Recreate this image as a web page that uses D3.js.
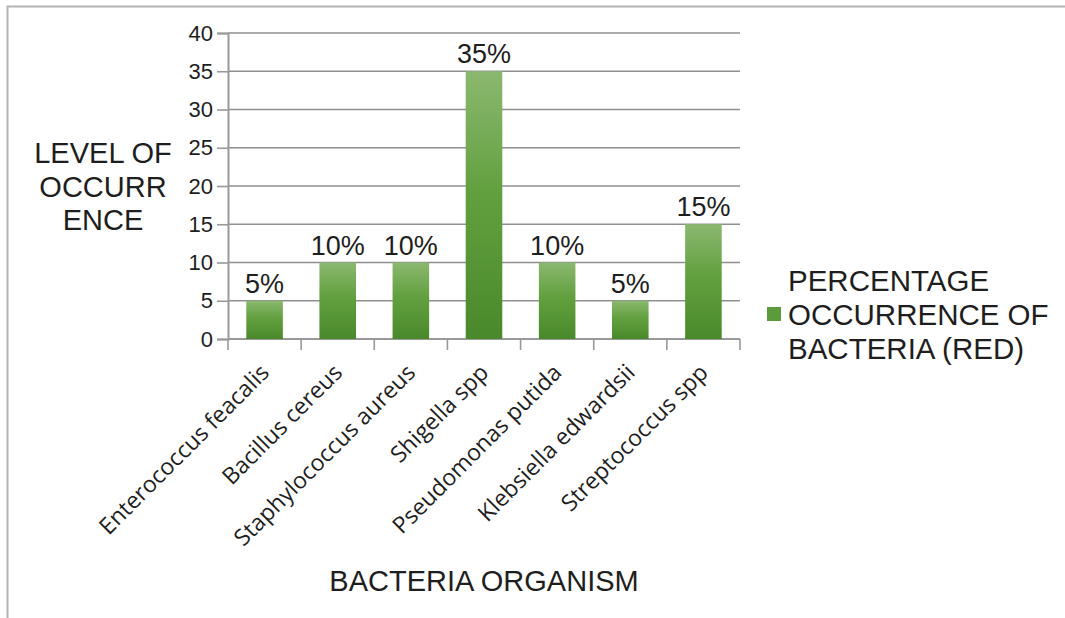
<!DOCTYPE html>
<html>
<head>
<meta charset="utf-8">
<script src="https://cdn.jsdelivr.net/npm/d3@7"></script>
<style>
  html, body { margin: 0; padding: 0; background: #fff; }
  svg { display: block; }
</style>
</head>
<body>
<svg id="chart" width="1065" height="618"></svg>
<script>
// Organisms isolated and their percentage occurrence
const categories = [
  "Enterococcus feacalis",
  "Bacillus cereus",
  "Staphylococcus aureus",
  "Shigella spp",
  "Pseudomonas putida",
  "Klebsiella edwardsii",
  "Streptococcus spp"
];
const occurrence = [5, 10, 10, 35, 10, 5, 15];
const yTicks = [0, 5, 10, 15, 20, 25, 30, 35, 40];
const seriesName = ["PERCENTAGE", "OCCURRENCE OF", "BACTERIA (RED)"];
const yTitle = ["LEVEL OF", "OCCURR", "ENCE"];
const xTitle = "BACTERIA ORGANISM";

const svg = d3.select("#chart");
const sans = "'Liberation Sans', Arial, sans-serif";
const textColor = "#1e1e1e";

// Outer frame
svg.append("rect")
  .attr("x", 7.5).attr("y", 6.5)
  .attr("width", 1100).attr("height", 700)
  .attr("fill", "#fff")
  .attr("stroke", "#b3b3b3")
  .attr("stroke-width", 2);

// Bar gradient
const defs = svg.append("defs");
const grad = defs.append("linearGradient")
  .attr("id", "barFill")
  .attr("x1", 0).attr("y1", 0).attr("x2", 0).attr("y2", 1);
grad.append("stop").attr("offset", "0%").attr("stop-color", "#8bb86f");
grad.append("stop").attr("offset", "45%").attr("stop-color", "#62a03f");
grad.append("stop").attr("offset", "100%").attr("stop-color", "#4a892b");

const plot = { left: 228, right: 740, top: 33, bottom: 339 };

const x = d3.scaleBand()
  .domain(categories)
  .range([plot.left, plot.right])
  .paddingInner(0.5)
  .paddingOuter(0.25);

const y = d3.scaleLinear()
  .domain([0, 40])
  .range([plot.bottom, plot.top]);

// Horizontal gridlines
svg.append("g")
  .selectAll("line")
  .data(yTicks)
  .join("line")
  .attr("x1", plot.left).attr("x2", plot.right)
  .attr("y1", d => y(d)).attr("y2", d => y(d))
  .attr("stroke", "#8f8f8f")
  .attr("stroke-width", 1.6);

// Y axis
const yAxis = svg.append("g")
  .attr("transform", `translate(${plot.left},0)`)
  .call(d3.axisLeft(y).tickValues(yTicks).tickSize(11).tickPadding(4));
yAxis.select(".domain").attr("stroke", "#999").attr("stroke-width", 2);
yAxis.selectAll(".tick line").attr("stroke", "#999").attr("stroke-width", 1.6);
yAxis.selectAll(".tick text")
  .attr("font-family", sans)
  .attr("font-size", 22)
  .attr("fill", textColor);

// X axis with ticks at category boundaries
const boundaries = categories.map(c => x(c) - x.step() * x.paddingInner() / 2)
  .concat([plot.right]);
svg.append("line")
  .attr("x1", plot.left).attr("x2", plot.right)
  .attr("y1", plot.bottom).attr("y2", plot.bottom)
  .attr("stroke", "#999").attr("stroke-width", 2);
svg.append("g")
  .selectAll("line")
  .data(boundaries)
  .join("line")
  .attr("x1", d => d).attr("x2", d => d)
  .attr("y1", plot.bottom).attr("y2", plot.bottom + 11)
  .attr("stroke", "#999").attr("stroke-width", 1.6);

// Bars
svg.append("g")
  .selectAll("rect")
  .data(categories)
  .join("rect")
  .attr("x", d => x(d))
  .attr("width", x.bandwidth())
  .attr("y", (d, i) => y(occurrence[i]))
  .attr("height", (d, i) => y(0) - y(occurrence[i]))
  .attr("fill", "url(#barFill)");

// Value labels
svg.append("g")
  .selectAll("text")
  .data(categories)
  .join("text")
  .attr("x", d => x(d) + x.bandwidth() / 2)
  .attr("y", (d, i) => y(occurrence[i]) - 8)
  .attr("text-anchor", "middle")
  .attr("font-family", sans)
  .attr("font-size", 27)
  .attr("fill", textColor)
  .text((d, i) => occurrence[i] + "%");

// Category labels, rotated
svg.append("g")
  .selectAll("text")
  .data(categories)
  .join("text")
  .attr("transform", d => `translate(${x(d) + x.bandwidth() / 2 + 6},374) rotate(-45)`)
  .attr("text-anchor", "end")
  .attr("font-family", "'Open Sans', sans-serif")
  .attr("font-size", 23)
  .attr("fill", textColor)
  .text(d => d);

// Y title
svg.append("text")
  .attr("text-anchor", "middle")
  .attr("font-family", sans)
  .attr("font-size", 29)
  .attr("fill", textColor)
  .selectAll("tspan")
  .data(yTitle)
  .join("tspan")
  .attr("x", 103)
  .attr("y", (d, i) => 163 + i * 33.5)
  .text(d => d);

// X title
svg.append("text")
  .attr("x", 484).attr("y", 591)
  .attr("text-anchor", "middle")
  .attr("font-family", sans)
  .attr("font-size", 29)
  .attr("fill", textColor)
  .text(xTitle);

// Legend
const legend = svg.append("g");
legend.append("rect")
  .attr("x", 767).attr("y", 307)
  .attr("width", 14).attr("height", 14)
  .attr("fill", "#5c9b3b");
legend.append("text")
  .attr("font-family", sans)
  .attr("font-size", 29.5)
  .attr("fill", textColor)
  .selectAll("tspan")
  .data(seriesName)
  .join("tspan")
  .attr("x", 788)
  .attr("y", (d, i) => 291 + i * 34)
  .text(d => d);
</script>
</body>
</html>
